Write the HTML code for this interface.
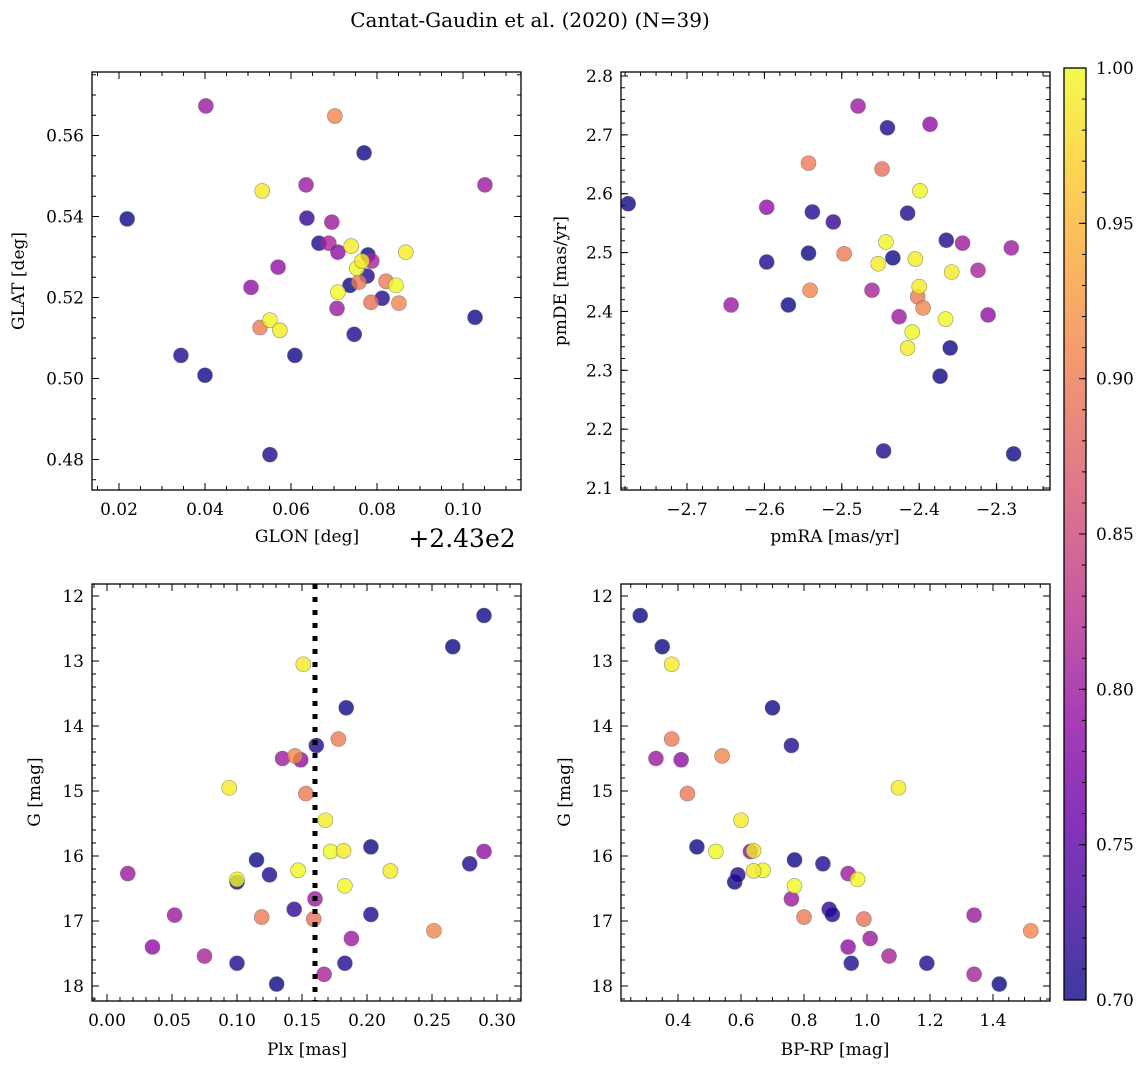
<!DOCTYPE html>
<html><head><meta charset="utf-8">
<style>
html,body{margin:0;padding:0;background:#fff;}
svg{display:block;font-family:"DejaVu Serif","Liberation Serif",serif;}
</style></head>
<body>
<svg id="fig" width="1148" height="1068" viewBox="0 0 1148 1068" xmlns="http://www.w3.org/2000/svg">
<text x="530" y="27" font-size="20" text-anchor="middle">Cantat-Gaudin et al. (2020) (N=39)</text>
</svg>
<script>
// Stars ordered by group: 14 blue, 10 purple, 6 salmon, 9 yellow
const prob = [0.70,0.71,0.70,0.71,0.70,0.72,0.71,0.70,0.71,0.70,0.71,0.70,0.71,0.70,
  0.80,0.79,0.80,0.81,0.80,0.79,0.80,0.81,0.80,0.79,
  0.90,0.91,0.90,0.89,0.90,0.91,
  0.99,1.00,0.99,1.00,0.99,1.00,0.99,1.00,0.99];
const glon = [0.0219,0.0344,0.0400,0.0551,0.0609,0.0637,0.0665,0.0737,0.0747,0.0770,0.0777,0.0779,0.0812,0.1028,
  0.0402,0.0507,0.0635,0.0688,0.0695,0.0709,0.0707,0.0788,0.1051,0.0570,
  0.0528,0.0702,0.0758,0.0786,0.0821,0.0851,
  0.0533,0.0551,0.0574,0.0709,0.0740,0.0753,0.0765,0.0844,0.0867];
const glat = [0.5394,0.5057,0.5008,0.4812,0.5057,0.5396,0.5334,0.5230,0.5109,0.5557,0.5253,0.5305,0.5198,0.5151,
  0.5673,0.5225,0.5478,0.5334,0.5386,0.5312,0.5173,0.5290,0.5478,0.5275,
  0.5126,0.5648,0.5238,0.5188,0.5240,0.5186,
  0.5463,0.5144,0.5119,0.5213,0.5327,0.5272,0.5290,0.5230,0.5312];
const pmra = [-2.776,-2.597,-2.569,-2.538,-2.543,-2.511,-2.441,-2.434,-2.415,-2.373,-2.365,-2.360,-2.446,-2.278,
  -2.643,-2.597,-2.479,-2.461,-2.426,-2.386,-2.344,-2.324,-2.281,-2.311,
  -2.543,-2.541,-2.497,-2.448,-2.402,-2.395,
  -2.453,-2.443,-2.415,-2.409,-2.405,-2.399,-2.400,-2.366,-2.358];
const pmde = [2.583,2.484,2.411,2.569,2.499,2.552,2.712,2.491,2.567,2.290,2.521,2.338,2.163,2.158,
  2.411,2.577,2.749,2.436,2.391,2.718,2.516,2.470,2.508,2.394,
  2.652,2.436,2.498,2.642,2.425,2.406,
  2.481,2.518,2.338,2.365,2.489,2.605,2.442,2.387,2.467];
const plx = [0.100,0.100,0.115,0.125,0.1305,0.144,0.161,0.184,0.183,0.203,0.203,0.266,0.279,0.290,
  0.016,0.035,0.052,0.075,0.135,0.149,0.160,0.167,0.188,0.290,
  0.119,0.1446,0.153,0.159,0.178,0.2515,
  0.094,0.100,0.151,0.147,0.168,0.172,0.182,0.183,0.218];
const gmag = [16.40,17.65,16.06,16.29,17.97,16.82,14.30,13.72,17.65,15.86,16.90,12.78,16.12,12.30,
  16.27,17.40,16.91,17.54,14.50,14.52,16.66,17.82,17.27,15.93,
  16.94,14.46,15.04,16.97,14.20,17.15,
  14.95,16.36,13.05,16.22,15.45,15.93,15.92,16.46,16.23];
const bprp = [0.58,0.95,0.77,0.59,1.42,0.88,0.76,0.70,1.19,0.46,0.89,0.35,0.86,0.28,
  0.94,0.94,1.34,1.07,0.33,0.41,0.76,1.34,1.01,0.63,
  0.80,0.54,0.43,0.99,0.38,1.52,
  1.10,0.97,0.38,0.67,0.60,0.52,0.64,0.77,0.64];
const plxLine = 0.16;
const cbTicks = [0.70,0.75,0.80,0.85,0.90,0.95,1.00];

const NS = "http://www.w3.org/2000/svg";
const svg = document.getElementById('fig');
function mk(tag, attrs, parent){ const e=document.createElementNS(NS,tag); for(const k in attrs) e.setAttribute(k,attrs[k]); (parent||svg).appendChild(e); return e; }

const plasma = [[13,8,135],[65,4,157],[106,0,168],[143,13,164],[177,42,144],[204,71,120],[225,100,98],[242,132,75],[252,166,54],[252,206,37],[240,249,33]];
function cmap(p){
  let t=(p-0.7)/0.3; t=Math.max(0,Math.min(1,t));
  const f=t*10, i=Math.min(9,Math.floor(f)), r=f-i;
  const a=plasma[i], b=plasma[i+1];
  return 'rgb('+a.map((v,k)=>Math.round(v+(b[k]-v)*r)).join(',')+')';
}

function panel(name, box, xs, ys, xMaj, yMaj, xMin, yMin, xFmt, yFmt){
  const g = mk('g',{});
  
  
  const [L,T,R,B]=box;
  // ticks
  xMaj.forEach(v=>{ const x=xs(v); if(x<L-0.5||x>R+0.5) return;
    mk('line',{x1:x,y1:B,x2:x,y2:B-7,stroke:'#000','stroke-width':1},g);
    mk('line',{x1:x,y1:T,x2:x,y2:T+7,stroke:'#000','stroke-width':1},g);
    const t=mk('text',{x:x,y:B+25,'font-size':17,'text-anchor':'middle'},g); t.textContent=xFmt(v);
    
    
  });
  xMin.forEach(v=>{ const x=xs(v); if(x<L||x>R) return;
    mk('line',{x1:x,y1:B,x2:x,y2:B-4,stroke:'#000','stroke-width':1},g);
    mk('line',{x1:x,y1:T,x2:x,y2:T+4,stroke:'#000','stroke-width':1},g);
  });
  yMaj.forEach(v=>{ const y=ys(v); if(y<T-0.5||y>B+0.5) return;
    mk('line',{x1:L,y1:y,x2:L+7,y2:y,stroke:'#000','stroke-width':1},g);
    mk('line',{x1:R,y1:y,x2:R-7,y2:y,stroke:'#000','stroke-width':1},g);
    const t=mk('text',{x:L-8,y:y+6,'font-size':17,'text-anchor':'end'},g); t.textContent=yFmt(v);
    
    
  });
  yMin.forEach(v=>{ const y=ys(v); if(y<T||y>B) return;
    mk('line',{x1:L,y1:y,x2:L+4,y2:y,stroke:'#000','stroke-width':1},g);
    mk('line',{x1:R,y1:y,x2:R-4,y2:y,stroke:'#000','stroke-width':1},g);
  });
  return g;
}
function frame(box,g){ const [L,T,R,B]=box; const r=mk('rect',{x:L,y:T,width:R-L,height:B-T,fill:'none',stroke:'#000','stroke-width':1.3},g);
  
   }
function range(a,b,s){ const o=[]; for(let v=a; v<=b+1e-9; v+=s) o.push(+v.toFixed(6)); return o; }
function pts(g, xv, yv, xs, ys, box){
  for(let i=0;i<xv.length;i++){
    const c=mk('circle',{cx:xs(xv[i]),cy:ys(yv[i]),r:7.5,fill:cmap(prob[i]),'fill-opacity':0.8,stroke:'#666','stroke-opacity':0.7,'stroke-width':0.6},g);
    
    
  }
}
const minus = v => (v<0?'\u2212':'')+Math.abs(v);

// Panel 1
const b1=[92,72,521,490];
const x1=v=>119+(v-0.02)*4300, y1=v=>135.5-(v-0.56)*4050;
const g1=panel('glon-glat-panel',b1,x1,y1,[0.02,0.04,0.06,0.08,0.10],[0.48,0.50,0.52,0.54,0.56],range(0.01,0.12,0.005),range(0.47,0.58,0.005),v=>v.toFixed(2),v=>v.toFixed(2));
pts(g1,glon,glat,x1,y1,b1); frame(b1,g1);
// Panel 2
const b2=[621,72,1050,490];
const x2=v=>687+(v+2.7)*774, y2=v=>76+(2.8-v)*588.6;
const g2=panel('pm-panel',b2,x2,y2,[-2.7,-2.6,-2.5,-2.4,-2.3],[2.1,2.2,2.3,2.4,2.5,2.6,2.7,2.8],range(-2.8,-2.2,0.02),range(2.08,2.82,0.02),v=>minus(v.toFixed(1)),v=>v.toFixed(1));
pts(g2,pmra,pmde,x2,y2,b2); frame(b2,g2);
// Panel 3
const b3=[92,584,521,1001];
const x3=v=>107+v*1300, y3=v=>596+(v-12)*65;
const g3=panel('plx-g-panel',b3,x3,y3,[0,0.05,0.10,0.15,0.20,0.25,0.30],[12,13,14,15,16,17,18],range(-0.01,0.33,0.01),range(11.8,18.2,0.2),v=>v.toFixed(2),v=>String(v));
pts(g3,plx,gmag,x3,y3,b3);
const dl=mk('line',{x1:x3(plxLine),y1:b3[1],x2:x3(plxLine),y2:b3[3],stroke:'#000','stroke-width':5,'stroke-dasharray':'5 8'},g3);


frame(b3,g3);
// Panel 4
const b4=[621,584,1050,1001];
const x4=v=>678+(v-0.4)*315, y4=y3;
const g4=panel('cmd-panel',b4,x4,y4,[0.4,0.6,0.8,1.0,1.2,1.4],[12,13,14,15,16,17,18],range(0.2,1.6,0.05),range(11.8,18.2,0.2),v=>v.toFixed(1),v=>String(v));
pts(g4,bprp,gmag,x4,y4,b4); frame(b4,g4);

// axis labels
function lbl(x,y,txt,name,rot,size){ const t=mk('text',{x:x,y:y,'font-size':size||17,'text-anchor':'middle'}); if(rot) t.setAttribute('transform','rotate(-90 '+x+' '+y+')'); t.textContent=txt;
  
   }
lbl(307,542,'GLON [deg]','x-axis-title-glon');
lbl(462,547,'+2.43e2','x-offset-text',false,25);
lbl(835,542,'pmRA [mas/yr]','x-axis-title-pmra');
lbl(307,1055,'Plx [mas]','x-axis-title-plx');
lbl(835,1055,'BP-RP [mag]','x-axis-title-bprp');
lbl(24,281,'GLAT [deg]','y-axis-title-glat',true);
lbl(566,281,'pmDE [mas/yr]','y-axis-title-pmde',true);
lbl(40,792,'G [mag]','y-axis-title-g-left',true);
lbl(570,792,'G [mag]','y-axis-title-g-right',true);

// colorbar
const cb=mk('g',{});


const CL=1064,CR=1086,CT=68,CB=1000;
const cy=v=>CB-(v-0.7)/0.3*(CB-CT);
const defs=mk('defs',{});
const grad=mk('linearGradient',{id:'cbg',x1:0,y1:1,x2:0,y2:0},defs);
for(let i=0;i<=10;i++){ mk('stop',{offset:(i/10),'stop-color':cmap(0.7+0.03*i),'stop-opacity':0.8},grad); }
mk('rect',{x:CL,y:CT,width:CR-CL,height:CB-CT,fill:'url(#cbg)',stroke:'#000','stroke-width':1.3},cb);
range(0.70,1.0,0.01).forEach(v=>{ const y=cy(v); mk('line',{x1:CR,y1:y,x2:CR-4,y2:y,stroke:'#000','stroke-width':1},cb); });
cbTicks.forEach(v=>{ const y=cy(v); mk('line',{x1:CR,y1:y,x2:CR-7,y2:y,stroke:'#000','stroke-width':1},cb);
  const t=mk('text',{x:1096,y:y+6,'font-size':17},cb); t.textContent=v.toFixed(2);
  
   });
</script>
</body></html>
